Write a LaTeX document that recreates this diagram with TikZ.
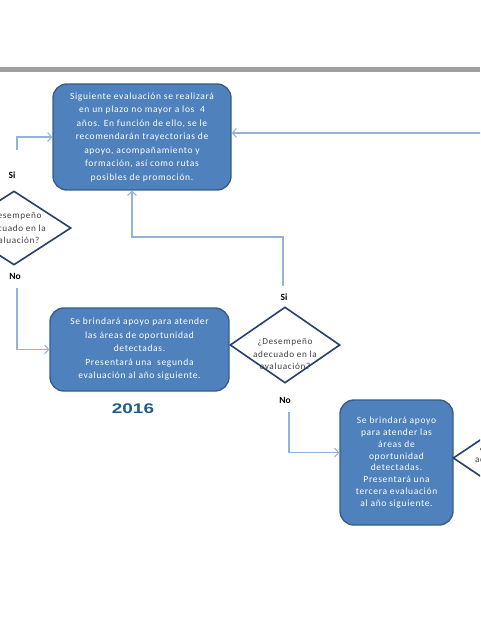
\documentclass[tikz,border=0pt]{standalone}
\usepackage{fontspec}
\setmainfont{Carlito}
\newfontfamily\wideface[LetterSpace=7]{Carlito}
\newfontfamily\yearfont{Liberation Sans}
\usetikzlibrary{arrows.meta}
\usetikzlibrary{shapes.geometric}

\definecolor{boxfill}{RGB}{79,129,189}
\definecolor{boxline}{RGB}{56,93,138}
\definecolor{qline}{RGB}{37,64,110}
\definecolor{connblue}{RGB}{149,179,215}
\definecolor{yearblue}{RGB}{31,92,140}
\definecolor{rulegray}{RGB}{160,160,160}

\tikzset{
	stepbox/.style={draw=boxline, fill=boxfill, line width=1.4pt, rounded corners=14pt,
		text=white, align=center, inner sep=0pt, font=\wideface\fontsize{9.5}{13.5}\selectfont},
	ask/.style={diamond, draw=qline, fill=white, line width=1.6pt, inner sep=0pt,
		minimum width=112pt, minimum height=75pt},
	asktext/.style={align=center, text=black!75, font=\wideface\fontsize{9.2}{12.3}\selectfont},
	answer/.style={font=\bfseries\fontsize{9.5}{10}\selectfont},
	flow/.style={draw=connblue, line width=1.1pt, -{Straight Barb[length=4pt,width=9pt]}}
}

\begin{document}
\begin{tikzpicture}[x=1pt,y=-1pt]
\useasboundingbox (0,0) rectangle (480,620);
\clip (0,0) rectangle (480,620);

\fill[rulegray] (0,67) rectangle (480,72);

% boxes
\node[stepbox, minimum width=178pt, minimum height=106pt] (eval4) at (142,137)
	{Siguiente evaluación se realizará\\en un plazo no mayor a los~~4\\años. En función de ello, se le\\recomendarán trayectorias de\\apoyo, acompañamiento y\\formación, así como rutas\\posibles de promoción.};
\node[stepbox, minimum width=179pt, minimum height=83pt] (apoyo2) at (139.5,349.5)
	{Se brindará apoyo para atender\\las áreas de oportunidad\\detectadas.\\Presentará una~~segunda\\evaluación al año siguiente.};
\node[stepbox, minimum width=113pt, minimum height=125pt,
	font=\wideface\fontsize{9.5}{11.8}\selectfont] (apoyo3) at (396.5,462.5)
	{Se brindará apoyo\\para atender las\\áreas de\\oportunidad\\detectadas.\\Presentará una\\tercera evaluación\\al año siguiente.};

% decisions
\node[ask, minimum width=114pt, minimum height=74pt] (q1) at (14,228) {};
\node[asktext] (q1txt) at (14,228) {¿Desempeño\\adecuado en la\\evaluación?};
\node[ask, minimum width=110pt, minimum height=76pt] (q2) at (285,345) {};
\node[asktext] (q2txt) at (285,354) {¿Desempeño\\adecuado en la\\evaluación?};
\node[ask] (q3) at (509,458) {};
\node[asktext] (q3txt) at (507,459) {¿Desempeño\\adecuado en la\\evaluación?};

\node[answer] (si1) at (12,175) {Si};
\node[answer] (no1) at (15,276) {No};
\node[answer] (si2) at (284,297) {Si};
\node[answer] (no2) at (285,400) {No};

\node[font=\yearfont\bfseries\fontsize{14}{14}\selectfont, text=yearblue] (year) at (133,409)
	{\scalebox{1.35}[1]{2016}};

% connectors
\coordinate (si1top) at (17,150);
\coordinate (no1bot) at (17,288);
\coordinate (si2top) at (283,286);
\coordinate (no2bot) at (289,412);
\coordinate (fromright) at (482,133);

\draw[flow] (si1top) |- (eval4.west);
\draw[flow] (no1bot) |- (apoyo2.west);
\draw[flow] (si2top) -- ++(0,-49) -| ([xshift=-10pt]eval4.south);
\draw[flow] (no2bot) |- ([yshift=10pt]apoyo3.west);
\draw[flow] (fromright) -- (eval4.east |- fromright);

\end{tikzpicture}
\end{document}
